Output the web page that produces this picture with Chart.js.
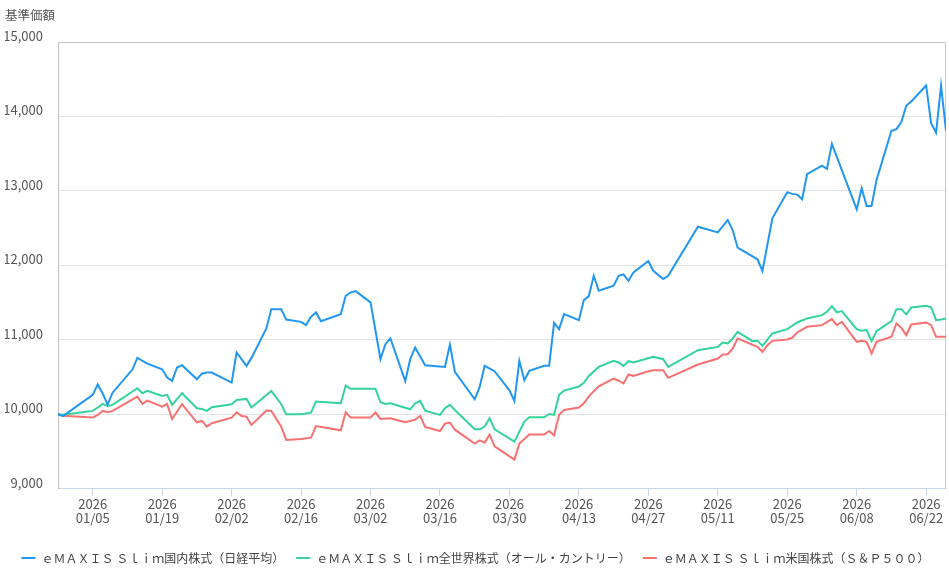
<!DOCTYPE html>
<html>
<head>
<meta charset="utf-8">
<script src="https://cdn.jsdelivr.net/npm/chart.js@4"></script>
<style>
  html, body { margin: 0; padding: 0; background: #ffffff; }
  #wrap { width: 949px; height: 575px; position: relative; }
</style>
</head>
<body>
<div id="wrap"><canvas id="c"></canvas></div>
<script>
// ---- data ----
const startDate = '2025-12-29';
const endDate = '2026-06-26';
const dates = [
  '2025-12-29','2025-12-30','2026-01-05','2026-01-06','2026-01-07','2026-01-08','2026-01-09','2026-01-13','2026-01-14','2026-01-15',
  '2026-01-16','2026-01-19','2026-01-20','2026-01-21','2026-01-22','2026-01-23','2026-01-26','2026-01-27','2026-01-28','2026-01-29',
  '2026-02-02','2026-02-03','2026-02-04','2026-02-05','2026-02-06','2026-02-09','2026-02-10','2026-02-12','2026-02-13','2026-02-16',
  '2026-02-17','2026-02-18','2026-02-19','2026-02-20','2026-02-24','2026-02-25','2026-02-26','2026-02-27','2026-03-02','2026-03-03',
  '2026-03-04','2026-03-05','2026-03-06','2026-03-09','2026-03-10','2026-03-11','2026-03-12','2026-03-13','2026-03-16','2026-03-17',
  '2026-03-18','2026-03-19','2026-03-23','2026-03-24','2026-03-25','2026-03-26','2026-03-27','2026-03-30','2026-03-31','2026-04-01',
  '2026-04-02','2026-04-03','2026-04-06','2026-04-07','2026-04-08','2026-04-09','2026-04-10','2026-04-13','2026-04-14','2026-04-15',
  '2026-04-16','2026-04-17','2026-04-20','2026-04-21','2026-04-22','2026-04-23','2026-04-24','2026-04-27','2026-04-28','2026-04-30',
  '2026-05-01','2026-05-07','2026-05-11','2026-05-12','2026-05-13','2026-05-14','2026-05-15','2026-05-18','2026-05-19','2026-05-20',
  '2026-05-21','2026-05-22','2026-05-25','2026-05-26','2026-05-27','2026-05-28','2026-05-29','2026-06-01','2026-06-02','2026-06-03',
  '2026-06-04','2026-06-05','2026-06-08','2026-06-09','2026-06-10','2026-06-11','2026-06-12','2026-06-15','2026-06-16','2026-06-17',
  '2026-06-18','2026-06-19','2026-06-22','2026-06-23','2026-06-24','2026-06-25','2026-06-26'
];
const nikkei = [
  10000, 9975,10260,10400,10280,10130,10290,10600,10757, null,
  10680,10605,10493,10448,10628,10659,10470,10545,10560,10560,
  10426,10830, null,10650,10757,11152,11412,11412,11273,11241,
  11197,11309,11368,11250,11345,11591,11637,11654,11502, null,
  10740,10941,11018,10444,10740,10897, null,10659, null,10636,
  10937,10569,10201,10367,10650, null,10578,10322,10178,10717,
  10457,10582,10650,10650,11228,11143,11345,11264,11533,11587,
  11860,11659,11726,11860,11880,11793,11906,12058,11927,11816,
  11860,12519,12443, null,12609,12475,12237, null,12081,11924,
   null,12632,12983,12960,12950,12888,13224,13340,13296,13632,
   null, null,12753,13036,12797,12797,13148,13807,13830,13924,
  14147,14201,14416,13910,13784,14416,13811
];
const allCountry = [
  10000, 9995,10045,10090,10139,10112,10126, null,10350,10283,
  10314,10247,10260,10126, null,10283,10081,10072,10045,10094,
  10135,10193, null,10206,10090, null,10314,10135,10000,10000,
   null,10022,10170, null,10148,10385,10341,10341,10341,10341,
  10161,10139,10148, null,10067,10148,10179,10049, 9991,10081,
  10126,10058, 9798, 9798, 9834, 9946, 9798, null, 9632, 9766,
   9901, 9959, 9959,10004, 9991,10260,10318,10372,10421,10515,
   null,10636,10717,10695,10650,10713,10695, null,10771,10740,
  10636,10861,10905,10964,10950,11018,11107,10982,10986,10919,
   null,11085,11143, null,11233, null,11287,11331,11376,11453,
  11368,11385,11143,11121,11130,10982,11116,11250,11412,11412,
  11341,11435,11457,11435,11264,11273,11287
];
const sp500 = [
  10000, 9981, 9955, 9991,10045,10027,10045, null,10237,10139,
  10184,10103,10139, 9937, null,10135, 9892, 9910, 9834, 9879,
   9955,10027, 9977, 9968, 9856,10049,10045, 9834, 9655, 9668,
   null, 9686, 9842, null, 9784,10027, 9955, 9955, 9955,10022,
   9937, null, 9946, 9892, null, 9928, 9977, 9829, 9775, 9874,
   9888, 9793, 9606, 9650, 9619, 9727, 9569, null, 9390, 9606,
   null, 9727, 9727, 9775, 9717, 9991,10058,10090,10148,10240,
  10310,10375,10480,10450,10413,10534,10515,10578,10592,10592,
  10489,10668,10749,10803,10807,10883,11018, null,10905,10838,
  10928,10986,11004,11027,11099, null,11175,11197, null,11278,
  11197,11242,10973,10986,10973,10816,10973,11040,11220,11161,
  11063,11206,11233,11197,11040,11040,11040
];
const seriesNames = [
  'ｅＭＡＸＩＳ Ｓｌｉｍ国内株式（日経平均）',
  'ｅＭＡＸＩＳ Ｓｌｉｍ全世界株式（オール・カントリー）',
  'ｅＭＡＸＩＳ Ｓｌｉｍ米国株式（Ｓ＆Ｐ５００）'
];
const seriesColors = ['#2196f3', '#34d399', '#f87171'];
const tickDates = ['2026-01-05','2026-01-19','2026-02-02','2026-02-16','2026-03-02','2026-03-16','2026-03-30',
  '2026-04-13','2026-04-27','2026-05-11','2026-05-25','2026-06-08','2026-06-22'];
const yAxisTitle = '基準価額';
const yMin = 9000, yMax = 15000, yStep = 1000;

// ---- helpers ----
const DAY = 86400000;
const base = Date.parse(startDate + 'T00:00:00Z');
const dayOf = s => Math.round((Date.parse(s + 'T00:00:00Z') - base) / DAY);
const pad2 = n => String(n).padStart(2, '0');
const labelOf = d => {
  const t = new Date(base + d * DAY);
  return [String(t.getUTCFullYear()), pad2(t.getUTCMonth() + 1) + '/' + pad2(t.getUTCDate())];
};
const xs = dates.map(dayOf);
const toPoints = arr => arr.map((v, i) => ({ x: xs[i], y: v }));
const tickDays = tickDates.map(dayOf);

Chart.defaults.font.family = "'Noto Sans CJK JP', 'Noto Sans', sans-serif";

const framePlugin = {
  id: 'frame',
  beforeDatasetsDraw(chart) {
    const { ctx, chartArea: a } = chart;
    ctx.save();
    ctx.strokeStyle = '#c8c8c8';
    ctx.lineWidth = 1;
    ctx.beginPath();
    ctx.moveTo(a.left, a.top + 0.5);
    ctx.lineTo(a.right - 0.5, a.top + 0.5);
    ctx.lineTo(a.right - 0.5, a.bottom);
    ctx.stroke();
    ctx.restore();
  }
};

new Chart(document.getElementById('c'), {
  type: 'line',
  data: {
    datasets: [nikkei, allCountry, sp500].map((arr, i) => ({
      label: seriesNames[i],
      data: toPoints(arr),
      borderColor: seriesColors[i],
      backgroundColor: seriesColors[i],
      borderWidth: 2,
      pointRadius: 0,
      pointHoverRadius: 0,
      tension: 0,
      spanGaps: true,
      fill: false
    }))
  },
  options: {
    responsive: true,
    maintainAspectRatio: false,
    animation: false,
    events: [],
    layout: { padding: { left: 5, right: 3, top: 0, bottom: 1 } },
    plugins: {
      title: {
        display: true,
        text: yAxisTitle,
        align: 'start',
        color: '#555555',
        font: { size: 12.5, weight: 'normal' },
        padding: { top: 8, bottom: 19 }
      },
      legend: {
        position: 'bottom',
        labels: {
          color: '#444444',
          font: { size: 12 },
          usePointStyle: true,
          pointStyle: 'line',
          boxWidth: 14,
          boxHeight: 11,
          pointStyleWidth: 14,
          padding: 12
        }
      },
      tooltip: { enabled: false }
    },
    scales: {
      x: {
        type: 'linear',
        min: dayOf(startDate),
        max: dayOf(endDate),
        afterBuildTicks: scale => { scale.ticks = tickDays.map(v => ({ value: v })); },
        afterFit: scale => { scale.height += 13; },
        ticks: {
          color: '#555555',
          font: { size: 13, lineHeight: 1.05 },
          maxRotation: 0,
          autoSkip: false,
          padding: 2,
          callback: v => labelOf(v)
        },
        grid: {
          drawOnChartArea: false,
          drawTicks: true,
          tickLength: 7,
          color: '#ccd6eb'
        },
        border: { color: '#ccd6eb', width: 1 }
      },
      y: {
        min: yMin,
        max: yMax,
        afterFit: scale => { scale.width = 53; },
        ticks: {
          stepSize: yStep,
          color: '#555555',
          font: { size: 13 },
          padding: 15,
          labelOffset: -6,
          callback: v => v.toLocaleString('en-US')
        },
        grid: {
          drawTicks: false,
          color: ctx => ctx.tick && ctx.tick.value === yMax ? '#c8c8c8' : '#e3e3e3'
        },
        border: { color: '#c3c3c3', width: 1 }
      }
    }
  },
  plugins: [framePlugin]
});
</script>
</body>
</html>
